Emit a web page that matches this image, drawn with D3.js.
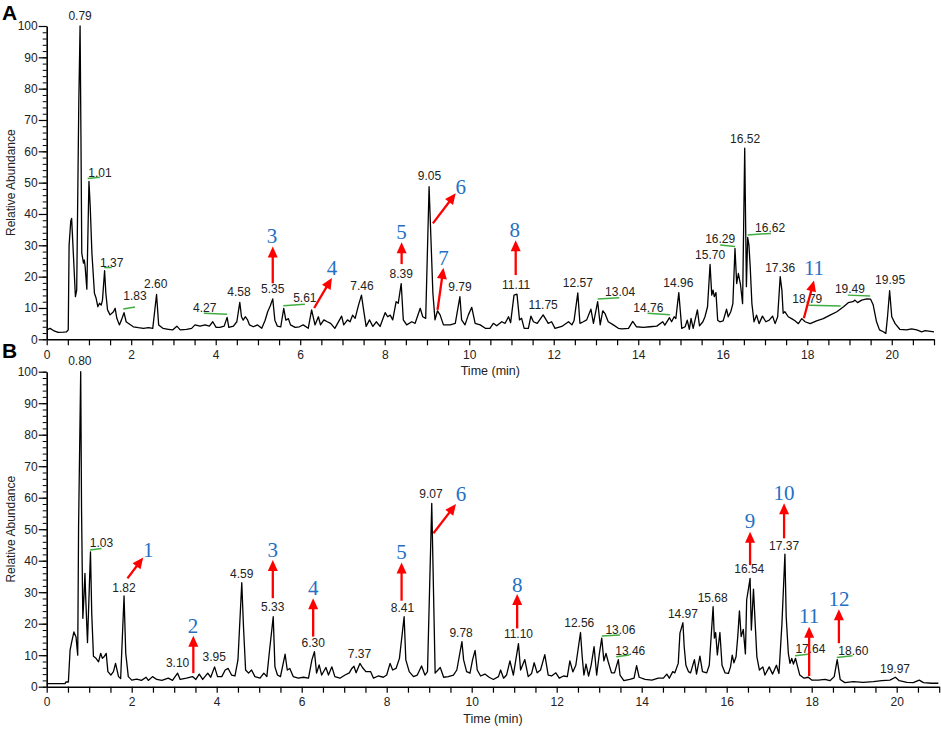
<!DOCTYPE html>
<html>
<head>
<meta charset="utf-8">
<script src="https://cdn.jsdelivr.net/npm/d3@7"></script>
<style>
  body { margin: 0; background: #fff; }
</style>
</head>
<body>
<svg id="chart" width="941" height="730"></svg>
<script>
// ---- chromatogram A: [time (min), relative abundance]
var traceA = [[0,3.0],[0.08,3.5],[0.16,2.8],[0.27,2.2],[0.39,2.3],[0.47,2.4],[0.51,3.0],[0.53,30],[0.57,37.8],[0.59,38.6],[0.63,27.5],[0.68,13.6],[0.71,15.7],[0.76,76],[0.79,100],[0.81,65.7],[0.83,27.5],[0.87,24.3],[0.89,25.3],[0.91,23.2],[0.95,16],[1.0,50.4],[1.03,42.4],[1.07,27.5],[1.13,14.7],[1.17,13.1],[1.21,10.4],[1.25,11.5],[1.29,10.9],[1.32,12.5],[1.37,21.9],[1.40,14.7],[1.44,9.4],[1.50,7.8],[1.58,8.8],[1.62,9.9],[1.66,6.7],[1.72,4.6],[1.77,6.2],[1.83,8.5],[1.88,5.6],[1.93,5.1],[2.05,4.0],[2.17,3.7],[2.29,3.5],[2.41,3.7],[2.51,3.5],[2.60,14.3],[2.65,4.6],[2.75,3.5],[2.88,3.2],[2.98,3.0],[3.08,4.2],[3.16,3.0],[3.31,3.2],[3.43,3.5],[3.51,4.6],[3.63,4.2],[3.75,4.6],[3.85,4.2],[3.93,5.6],[4.01,3.8],[4.10,3.8],[4.20,4.2],[4.27,7.0],[4.31,3.8],[4.42,4.2],[4.50,5.6],[4.57,11.8],[4.61,7.2],[4.65,6.1],[4.70,7.2],[4.75,6.3],[4.80,4.6],[4.89,4.0],[4.99,4.6],[5.09,3.5],[5.17,6.1],[5.23,8.8],[5.29,10.6],[5.35,12.9],[5.40,6.1],[5.46,4.2],[5.54,4.0],[5.61,9.9],[5.66,6.1],[5.72,6.6],[5.77,4.6],[5.88,3.8],[5.98,4.0],[6.07,4.6],[6.19,3.5],[6.27,9.4],[6.35,4.6],[6.43,7.2],[6.48,4.6],[6.56,6.2],[6.64,5.6],[6.72,5.1],[6.82,3.5],[6.98,7.4],[7.03,4.6],[7.12,6.2],[7.18,5.6],[7.24,7.7],[7.30,6.7],[7.38,10.9],[7.45,14.1],[7.50,9.4],[7.56,4.1],[7.64,6.2],[7.72,4.1],[7.80,5.6],[7.89,4.1],[8.01,8.5],[8.07,7.2],[8.13,7.7],[8.19,6.2],[8.27,12.0],[8.32,11.5],[8.39,17.8],[8.44,6.2],[8.52,4.6],[8.64,5.6],[8.72,5.1],[8.84,9.9],[8.90,7.2],[8.97,6.7],[9.05,48.7],[9.14,14.7],[9.19,6.2],[9.25,9.1],[9.31,7.8],[9.39,4.6],[9.55,4.6],[9.67,5.1],[9.78,13.6],[9.82,6.2],[9.90,4.6],[9.98,7.8],[10.06,10.2],[10.14,5.1],[10.26,4.6],[10.38,3.5],[10.49,3.5],[10.57,5.1],[10.65,4.3],[10.77,5.6],[10.85,5.1],[10.93,7.2],[10.98,5.3],[11.06,14.1],[11.13,14.4],[11.19,6.2],[11.24,6.7],[11.30,3.5],[11.40,3.5],[11.46,7.4],[11.52,5.6],[11.61,5.1],[11.75,7.8],[11.87,5.1],[11.95,5.6],[12.03,3.5],[12.19,4.1],[12.35,5.6],[12.43,4.6],[12.48,5.9],[12.57,14.8],[12.62,5.1],[12.70,5.6],[12.78,6.2],[12.88,9.6],[12.94,5.1],[13.04,12.0],[13.10,4.6],[13.16,9.1],[13.21,8.3],[13.29,5.6],[13.41,4.6],[13.53,3.5],[13.61,3.3],[13.77,3.5],[13.87,5.7],[13.96,4.0],[14.12,3.8],[14.28,4.0],[14.44,4.2],[14.58,5.6],[14.63,4.5],[14.74,6.9],[14.79,5.6],[14.85,7.2],[14.89,6.6],[14.96,14.9],[15.03,3.5],[15.11,4.0],[15.16,6.1],[15.21,3.2],[15.25,6.7],[15.30,3.5],[15.40,9.4],[15.45,4.3],[15.53,5.6],[15.58,7.2],[15.64,10.4],[15.70,23.9],[15.74,14.1],[15.77,15.7],[15.80,13.6],[15.84,14.9],[15.88,6.1],[15.93,5.6],[16.01,5.9],[16.09,9.6],[16.13,7.2],[16.19,8.8],[16.24,11.4],[16.29,29],[16.33,17.8],[16.37,21],[16.42,17.5],[16.47,11.4],[16.52,61],[16.56,16.8],[16.59,32.5],[16.62,30.1],[16.65,23.2],[16.69,11.4],[16.74,5.6],[16.80,7.7],[16.86,5.0],[16.94,7.4],[17.02,5.6],[17.10,6.1],[17.18,7.4],[17.24,5.0],[17.30,7.2],[17.36,20],[17.40,15.7],[17.43,8.3],[17.47,8.8],[17.55,7.2],[17.63,6.6],[17.71,5.9],[17.79,5.0],[17.87,6.6],[17.95,5.6],[18.07,5.0],[18.22,5.9],[18.38,6.6],[18.54,7.7],[18.70,8.8],[18.86,10.4],[18.97,11.7],[19.08,12.0],[19.13,12.5],[19.19,11.7],[19.29,12.5],[19.41,12.9],[19.50,12.8],[19.56,11.0],[19.64,5.6],[19.71,3.0],[19.80,2.4],[19.86,1.9],[19.90,7.2],[19.95,15.5],[20.00,7.2],[20.08,5.0],[20.19,3.2],[20.35,3.0],[20.47,3.3],[20.59,3.0],[20.71,2.4],[20.79,2.8],[21,2.4]];

// ---- chromatogram B
var traceB = [[0,0.96],[0.43,0.96],[0.45,1.5],[0.51,1.5],[0.55,11.6],[0.59,14.3],[0.64,17.4],[0.69,15.8],[0.73,10.0],[0.75,50.8],[0.80,100],[0.82,56],[0.85,21.7],[0.88,29.6],[0.90,36],[0.92,27.5],[0.96,14.0],[1.03,42.8],[1.06,23.2],[1.10,9.7],[1.16,9.0],[1.22,7.9],[1.27,10.6],[1.31,9.0],[1.35,9.5],[1.40,10.6],[1.44,4.8],[1.51,3.7],[1.57,4.8],[1.62,7.4],[1.69,3.2],[1.74,2.6],[1.82,28.8],[1.86,10.6],[1.92,3.2],[2.0,2.1],[2.12,2.4],[2.23,2.0],[2.34,3.0],[2.39,2.0],[2.49,3.2],[2.59,2.3],[2.71,2.0],[2.86,2.7],[2.96,2.0],[3.08,4.3],[3.14,2.3],[3.29,2.7],[3.43,3.2],[3.51,2.3],[3.59,4.0],[3.67,2.3],[3.79,4.3],[3.86,3.0],[3.95,6.3],[4.02,3.2],[4.12,3.2],[4.20,5.3],[4.27,5.8],[4.35,3.7],[4.43,3.4],[4.50,8.5],[4.59,33.0],[4.63,19.1],[4.68,5.3],[4.75,4.3],[4.82,5.3],[4.90,3.2],[5.02,2.7],[5.11,4.3],[5.18,3.2],[5.24,11.1],[5.33,22.2],[5.37,6.3],[5.43,3.7],[5.50,3.2],[5.61,10.3],[5.66,5.3],[5.72,5.8],[5.80,3.2],[5.92,2.7],[6.04,3.0],[6.16,2.7],[6.24,8.5],[6.30,11.1],[6.35,4.3],[6.41,6.9],[6.47,3.7],[6.57,6.1],[6.63,3.7],[6.71,6.3],[6.78,3.2],[6.90,2.7],[7.02,3.7],[7.12,4.4],[7.18,5.8],[7.23,6.5],[7.28,4.4],[7.37,7.4],[7.43,6.1],[7.51,4.8],[7.62,4.8],[7.69,2.7],[7.80,3.4],[7.92,3.0],[8.00,3.7],[8.08,7.4],[8.14,5.3],[8.22,5.8],[8.30,9.0],[8.41,22.2],[8.45,8.5],[8.53,4.8],[8.63,3.2],[8.72,3.7],[8.82,6.6],[8.90,3.7],[8.96,4.8],[9.06,58.2],[9.14,4.3],[9.26,6.1],[9.34,3.0],[9.45,3.2],[9.57,3.7],[9.65,5.3],[9.77,14.3],[9.81,8.5],[9.88,4.8],[9.96,4.3],[10.02,8.5],[10.08,11.5],[10.13,5.3],[10.21,3.4],[10.31,4.0],[10.41,3.0],[10.51,2.3],[10.63,3.2],[10.68,5.3],[10.75,2.7],[10.82,3.7],[10.90,8.2],[10.98,3.7],[11.10,13.7],[11.15,5.3],[11.25,8.6],[11.33,3.2],[11.41,4.2],[11.47,7.6],[11.54,4.4],[11.62,5.3],[11.72,10.2],[11.80,3.7],[11.88,3.4],[11.98,4.4],[12.06,2.7],[12.16,3.4],[12.25,3.2],[12.31,8.2],[12.38,4.7],[12.45,6.8],[12.56,17.2],[12.60,9.5],[12.64,3.7],[12.69,7.2],[12.75,3.4],[12.81,6.8],[12.88,12.7],[12.94,3.7],[13.00,10.1],[13.06,15.4],[13.11,8.2],[13.16,10.6],[13.21,8.0],[13.29,4.4],[13.36,4.4],[13.45,8.6],[13.49,3.7],[13.58,1.9],[13.72,2.3],[13.82,2.7],[13.88,6.7],[13.94,3.0],[14.08,2.3],[14.24,2.1],[14.39,2.7],[14.51,2.7],[14.59,4.0],[14.65,2.7],[14.73,4.8],[14.78,4.4],[14.86,7.4],[14.90,17.0],[14.97,20.3],[15.00,12.7],[15.04,6.8],[15.10,4.8],[15.15,4.4],[15.24,8.6],[15.29,4.0],[15.37,9.7],[15.43,4.8],[15.53,4.4],[15.59,6.8],[15.68,25.4],[15.71,15.4],[15.74,17.2],[15.78,10.1],[15.84,17.2],[15.89,6.8],[15.96,4.4],[16.04,4.2],[16.09,6.3],[16.13,10.0],[16.17,7.6],[16.22,9.5],[16.26,15.9],[16.30,24.1],[16.34,15.9],[16.39,18.2],[16.44,10.4],[16.47,27.6],[16.52,31.8],[16.55,34.4],[16.58,18.0],[16.63,31.0],[16.67,20.1],[16.71,9.5],[16.77,5.3],[16.85,6.3],[16.90,3.7],[17.00,6.3],[17.08,4.0],[17.17,6.8],[17.23,4.2],[17.30,20.1],[17.37,42.1],[17.40,22.2],[17.45,10.6],[17.49,7.4],[17.53,9.0],[17.57,7.2],[17.62,9.0],[17.66,6.8],[17.72,3.7],[17.82,2.7],[17.92,3.0],[18.00,2.1],[18.16,2.1],[18.31,2.3],[18.43,1.9],[18.53,3.2],[18.60,8.6],[18.67,2.3],[18.78,1.3],[18.98,1.6],[19.21,1.4],[19.45,1.6],[19.65,1.9],[19.84,2.1],[19.97,3.0],[20.06,1.9],[20.24,1.4],[20.39,1.3],[20.53,2.1],[20.63,1.3],[20.82,1.1],[20.98,1.1]];

// peak retention-time labels: [text, time, abundance] (label centre / baseline)
var peaksA = [["0.79",0.79,101.9],["1.01",1.26,51.8],["1.37",1.54,23.2],["1.83",2.09,12.5],["2.60",2.58,16.3],["4.27",3.74,8.8],["4.58",4.55,13.8],["5.35",5.35,14.7],["5.61",6.11,12.0],["7.46",7.46,15.7],["8.39",8.39,19.7],["9.05",9.06,50.8],["9.79",9.78,15.4],["11.11",11.11,16.1],["11.75",11.75,9.6],["12.57",12.57,16.6],["13.04",13.57,13.8],["14.76",14.24,8.8],["14.96",14.95,16.6],["15.70",15.70,25.5],["16.29",15.94,30.8],["16.52",16.53,62.8],["16.62",17.12,34.2],["17.36",17.36,21.6],["18.79",18.00,11.5],["19.49",19.01,14.7],["19.95",19.96,17.7]];
var peaksB = [["0.80",0.78,102.1],["1.03",1.29,44.4],["1.82",1.82,30.2],["3.10",3.08,6.2],["3.95",3.94,8.3],["4.59",4.59,34.4],["5.33",5.32,24.1],["6.30",6.27,12.7],["7.37",7.36,9.0],["8.41",8.37,23.8],["9.07",9.04,59.8],["9.78",9.75,15.7],["11.10",11.10,15.4],["12.56",12.53,19.0],["13.06",13.50,16.7],["13.46",13.73,10.1],["14.97",14.97,21.9],["15.68",15.67,27.0],["16.54",16.53,36.0],["17.37",17.35,43.4],["17.64",17.97,10.6],["18.60",18.98,10.1],["19.97",19.96,4.4]];

// green leader lines: [t1, a1, t2, a2]
var leadersA = [[0.97,51.3,1.26,51.7],[1.36,22.9,1.54,22.9],[1.81,9.7,2.09,10.3],[3.72,8.3,4.27,8.0],[5.60,10.7,6.11,11.2],[13.04,12.9,13.55,13.3],[14.22,8.3,14.75,7.8],[15.94,30.1,16.29,29.6],[16.59,33.3,17.14,33.8],[18.03,10.9,18.79,10.6],[18.96,14.1,19.49,13.8]];
var leadersB = [[1.02,43.4,1.29,43.9],[13.06,16.1,13.49,16.4],[13.40,9.5,13.71,10.1],[17.61,9.8,17.96,10.4],[18.59,9.3,18.96,9.8]];

// compound numbers (blue): [text, time, abundance]
var compA = [["3",5.33,30.6],["4",6.75,20.5],["5",8.40,31.9],["6",9.80,46.4],["7",9.39,23.7],["8",11.08,32.6],["11",18.16,20.5]];
var compB = [["1",2.39,41.3],["2",3.44,17.1],["3",5.32,41.3],["4",6.27,29.1],["5",8.35,40.5],["6",9.75,59.0],["8",11.07,30.2],["9",16.55,50.3],["10",17.35,59.3],["11",17.94,20.1],["12",18.64,25.6]];

// red arrows: [t_from, a_from, t_tip, a_tip]
var arrowsA = [[5.35,17.9,5.35,29.6],[6.33,10.0,6.75,19.6],[8.40,24.0,8.40,31.0],[9.14,37.0,9.68,46.6],[9.25,9.4,9.39,22.8],[11.10,20.5,11.10,31.6],[17.92,6.7,18.16,18.8]];
var arrowsB = [[1.90,34.4,2.27,41.0],[3.45,4.3,3.45,16.2],[5.32,28.1,5.32,40.2],[6.27,15.9,6.27,28.1],[8.35,27.3,8.35,39.4],[9.10,48.7,9.63,58.0],[11.07,18.5,11.07,29.4],[16.55,38.6,16.55,49.2],[17.35,47.1,17.35,58.2],[17.94,3.4,17.94,19.0],[18.64,13.8,18.64,24.6]];

var xTicks = d3.range(0, 21.01, 0.5);
var xLabels = d3.range(0, 21, 2);

var sansFont = "Arial, 'Liberation Sans', sans-serif";
var serifFont = "'Times New Roman', 'Liberation Serif', serif";

var svg = d3.select("#chart");

function drawPanel(p) {
  var x = d3.scaleLinear().domain([0, 21]).range([p.left, p.right]);
  var y = d3.scaleLinear().domain([0, 100]).range([p.bottom, p.top]);
  var g = svg.append("g");

  // minor y ticks every 2
  g.append("g")
    .attr("transform", "translate(" + p.left + ",0)")
    .call(d3.axisLeft(y).tickValues(d3.range(0, 101, 2)).tickSize(4).tickSizeOuter(0).tickFormat(""))
    .call(function(a) { a.select(".domain").remove(); });

  // major y ticks + labels
  var ya = g.append("g")
    .attr("transform", "translate(" + p.left + ",0)")
    .call(d3.axisLeft(y).tickValues(d3.range(0, 101, 10)).tickSize(8).tickSizeOuter(0).tickPadding(1));
  ya.select(".domain").attr("stroke-width", 1.6);
  ya.selectAll("line").attr("stroke-width", 1.2);
  ya.selectAll("text").attr("font-family", sansFont).attr("font-size", 12).attr("fill", "#222");

  // x axis
  var xa = g.append("g")
    .attr("transform", "translate(0," + p.bottom + ")")
    .call(d3.axisBottom(x).tickValues(xTicks).tickSize(6).tickSizeOuter(0).tickPadding(5)
      .tickFormat(function(d) { return xLabels.indexOf(d) >= 0 ? d : ""; }));
  xa.select(".domain").attr("stroke-width", 1.6);
  xa.selectAll("line").attr("stroke-width", 1.2);
  xa.selectAll("text").attr("font-family", sansFont).attr("font-size", 12).attr("fill", "#222");

  // axis titles
  g.append("text")
    .attr("transform", "translate(" + p.yTitleX + "," + ((p.top + p.bottom) / 2) + ") rotate(-90)")
    .attr("text-anchor", "middle")
    .attr("dy", "0.35em")
    .attr("font-family", sansFont)
    .attr("font-size", 12)
    .attr("fill", "#222")
    .text("Relative Abundance");

  g.append("text")
    .attr("x", (p.left + p.right) / 2)
    .attr("y", p.bottom + 36)
    .attr("text-anchor", "middle")
    .attr("font-family", sansFont)
    .attr("font-size", 12.5)
    .attr("fill", "#222")
    .text("Time (min)");

  // panel letter
  g.append("text")
    .attr("x", 2)
    .attr("y", p.letterY)
    .attr("font-family", sansFont)
    .attr("font-weight", "bold")
    .attr("font-size", 21)
    .text(p.letter);

  // trace
  var line = d3.line()
    .x(function(d) { return x(d[0]); })
    .y(function(d) { return y(d[1]); });

  g.append("path")
    .datum(p.trace)
    .attr("d", line)
    .attr("fill", "none")
    .attr("stroke", "#000")
    .attr("stroke-width", 1.3)
    .attr("stroke-linejoin", "round");

  // green leader lines
  g.selectAll(".leader")
    .data(p.leaders)
    .enter().append("line")
    .attr("class", "leader")
    .attr("x1", function(d) { return x(d[0]); })
    .attr("y1", function(d) { return y(d[1]); })
    .attr("x2", function(d) { return x(d[2]); })
    .attr("y2", function(d) { return y(d[3]); })
    .attr("stroke", "#3fae3f")
    .attr("stroke-width", 1.5);

  // peak labels
  g.selectAll(".peak")
    .data(p.peaks)
    .enter().append("text")
    .attr("class", "peak")
    .attr("x", function(d) { return x(d[1]); })
    .attr("y", function(d) { return y(d[2]); })
    .attr("text-anchor", "middle")
    .attr("font-family", sansFont)
    .attr("font-size", 12)
    .attr("fill", "#222")
    .text(function(d) { return d[0]; });

  // red arrows
  var ag = g.selectAll(".arrow")
    .data(p.arrows)
    .enter().append("g")
    .attr("class", "arrow");

  ag.append("line")
    .attr("x1", function(d) { return x(d[0]); })
    .attr("y1", function(d) { return y(d[1]); })
    .attr("x2", function(d) { return headPts(d)[3][0]; })
    .attr("y2", function(d) { return headPts(d)[3][1]; })
    .attr("stroke", "#ff0000")
    .attr("stroke-width", 2.3);

  ag.append("polygon")
    .attr("points", function(d) { return headPts(d).slice(0, 3).join(" "); })
    .attr("fill", "#ff0000");

  function headPts(d) {
    var x1 = x(d[0]), y1 = y(d[1]), x2 = x(d[2]), y2 = y(d[3]);
    var dx = x2 - x1, dy = y2 - y1, len = Math.sqrt(dx * dx + dy * dy);
    var ux = dx / len, uy = dy / len, hl = 11, hw = 5;
    var bx = x2 - ux * hl, by = y2 - uy * hl;
    return [[x2, y2], [bx - uy * hw, by + ux * hw], [bx + uy * hw, by - ux * hw], [bx + ux * 2, by + uy * 2]];
  }

  // compound numbers
  g.selectAll(".comp")
    .data(p.comps)
    .enter().append("text")
    .attr("class", "comp")
    .attr("x", function(d) { return x(d[1]); })
    .attr("y", function(d) { return y(d[2]); })
    .attr("text-anchor", "middle")
    .attr("font-family", serifFont)
    .attr("font-size", 21)
    .attr("fill", "#2470c4")
    .text(function(d) { return d[0]; });
}

drawPanel({ trace: traceA, peaks: peaksA, leaders: leadersA, comps: compA, arrows: arrowsA,
  left: 46.7, right: 934, top: 26, bottom: 339.3, yTitleX: 11, letter: "A", letterY: 20 });
drawPanel({ trace: traceB, peaks: peaksB, leaders: leadersB, comps: compB, arrows: arrowsB,
  left: 46.7, right: 939.2, top: 371.7, bottom: 686.7, yTitleX: 11, letter: "B", letterY: 358 });
</script>
</body>
</html>
